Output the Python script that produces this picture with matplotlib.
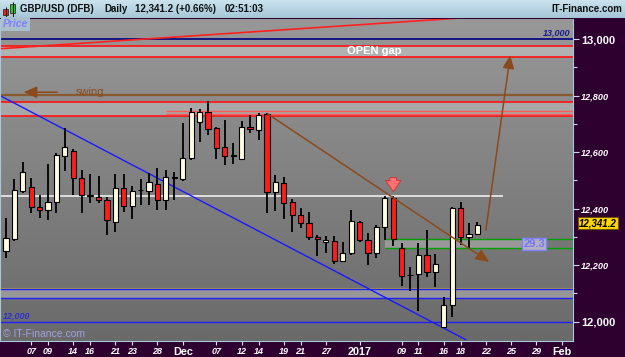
import numpy as np
import matplotlib
matplotlib.use('Agg')
import matplotlib.pyplot as plt
from matplotlib.colors import LinearSegmentedColormap
from matplotlib.patches import Rectangle

plt.rcParams['font.family'] = ['Liberation Sans', 'DejaVu Sans']

# GBP/USD (DFB) daily candles, 2 Nov 2016 .. 20 Jan 2017 (price x 10000)
opens = [12250, 12292, 12462, 12476, 12405, 12395, 12423, 12586, 12604, 12508,
         12444, 12441, 12430, 12352, 12473, 12409, 12465, 12462, 12487, 12430,
         12508, 12504, 12579, 12706, 12742, 12685, 12618, 12586, 12575, 12688,
         12678, 12735, 12458, 12490, 12423, 12377, 12349, 12299, 12281, 12285,
         12214, 12242, 12352, 12288, 12242, 12334, 12437, 12260, 12165, 12168,
         12235, 12175, 11980, 12058, 12402, 12299, 12310]
highs = [12366, 12504, 12565, 12508, 12448, 12557, 12596, 12685, 12610, 12536,
         12522, 12515, 12441, 12522, 12522, 12480, 12504, 12526, 12543, 12536,
         12529, 12703, 12755, 12752, 12780, 12688, 12713, 12632, 12710, 12731,
         12738, 12738, 12519, 12511, 12434, 12402, 12388, 12306, 12303, 12303,
         12281, 12395, 12356, 12313, 12342, 12444, 12444, 12278, 12193, 12278,
         12324, 12239, 12087, 12405, 12423, 12349, 12352]
lows = [12225, 12285, 12455, 12384, 12366, 12359, 12384, 12533, 12448, 12384,
        12419, 12419, 12306, 12317, 12388, 12363, 12412, 12412, 12395, 12395,
        12430, 12497, 12572, 12635, 12660, 12575, 12554, 12558, 12572, 12667,
        12642, 12384, 12391, 12363, 12317, 12331, 12288, 12232, 12242, 12204,
        12211, 12235, 12281, 12200, 12225, 12288, 12267, 12126, 12108, 12037,
        12157, 12122, 11978, 12016, 12271, 12260, 12306]
closes = [12296, 12465, 12529, 12405, 12395, 12423, 12589, 12618, 12508, 12448,
          12448, 12430, 12359, 12473, 12409, 12462, 12466, 12494, 12430, 12511,
          12511, 12579, 12742, 12742, 12681, 12614, 12586, 12589, 12688, 12681,
          12731, 12458, 12494, 12419, 12377, 12349, 12299, 12292, 12288, 12214,
          12242, 12356, 12288, 12242, 12334, 12437, 12292, 12161, 12163, 12235,
          12175, 12204, 12058, 12402, 12299, 12310, 12341]

tick_pos = [3, 5, 8, 10, 13, 15, 18, 21, 25, 28, 30, 33, 35, 38, 42,
            47, 49, 52, 54, 57, 60, 63, 66]
tick_lab = ['07', '09', '14', '16', '21', '23', '28', 'Dec', '07', '12', '14',
            '19', '21', '27', '2017', '09', '11', '16', '18', '22', '25', '29', 'Feb']

# drawn levels and bands
gap_band = [12936, 12975]
swing_level = 12802
res_band = [12727, 12777]
res_inner = [12736, 12745]
pivot_level = 12445
green_band = [12259, 12291]
support_band = [12083, 12115]
support_top = 12119

# trendlines (bar index, price)
red_trend = ([-0.7, 53.6], [12966, 13074])
blue_trend = ([-0.7, 54.6], [12800, 11936])
brown_down = ([31.1, 57.4], [12735, 12211])
brown_up = ([57.0, 59.9], [12324, 12943])

W, H = 625, 357
fig = plt.figure(figsize=(W / 100, H / 100), dpi=100, facecolor='#2d0030')


def fx(x):
    return x / W


def fy(y):
    return 1 - y / H


top, bot, right = 18.5, 341, 573
ax = fig.add_axes([0, fy(bot), fx(right), (bot - top) / H])
x0, x1 = -0.7, 67.35
y0, y1 = 11931, 13073

bg = LinearSegmentedColormap.from_list('bg', ['#989898', '#6a6a6a'])
ax.imshow(np.linspace(0, 1, 200).reshape(-1, 1), cmap=bg, extent=[x0, x1, y0, y1],
          aspect='auto', origin='upper', zorder=0)

# bands
ax.axhspan(*gap_band, color='white', alpha=0.28, lw=0, zorder=1)
ax.axhspan(*res_band, color='white', alpha=0.25, lw=0, zorder=1)
ax.axhspan(*support_band, color='white', alpha=0.28, lw=0, zorder=1)
ax.fill_between([45.0, 61.3], green_band[0], green_band[1], color='white', alpha=0.25, lw=0, zorder=1)

# horizontal lines
ax.axhline(13000, color='#000080', lw=1.2, zorder=2)
ax.axhline(12000, color='#2020ff', lw=1.0, zorder=2)
for lv in gap_band + res_band:
    ax.axhline(lv, color='#ff1010', lw=1.2, zorder=2)
ax.hlines(res_inner, 19.0, x1, color='#ff5a5a', lw=1.0, zorder=2)
ax.axhline(swing_level, color='#8a5a30', lw=1.6, zorder=2)
ax.hlines(pivot_level, x0, 59.0, color='#e6e6e6', lw=1.3, zorder=2)
ax.hlines(green_band, 45.0, x1, color='#00a000', lw=1.0, zorder=2)
ax.axhline(support_top, color='#b0a040', lw=0.8, zorder=2)
for lv in support_band:
    ax.axhline(lv, color='#2020ff', lw=1.0, zorder=2)

# trendlines
ax.plot(*red_trend, color='#ff2020', lw=1.2, zorder=2)
ax.plot(*blue_trend, color='#1a1aff', lw=1.0, zorder=2)

# candles
o = np.array(opens)
c = np.array(closes)
idx = np.arange(len(o))
body_lo = np.minimum(o, c)
body_h = np.maximum(np.abs(c - o), 1.0)
cols = np.where(c >= o, '#fffde2', '#ff1c1c')
ax.vlines(idx, lows, highs, color='black', lw=1.3, zorder=3)
ax.bar(idx, body_h, bottom=body_lo, width=0.62, color=cols, edgecolor='black',
       lw=0.8, zorder=4)

# arrows
arrow = dict(arrowstyle='-|>,head_length=0.8,head_width=0.35', color='#8b4a1c',
             lw=1.1, shrinkA=0, shrinkB=0)
ax.annotate('', xy=(brown_down[0][1], brown_down[1][1]),
            xytext=(brown_down[0][0], brown_down[1][0]), arrowprops=arrow, zorder=5)
ax.annotate('', xy=(brown_up[0][1], brown_up[1][1]),
            xytext=(brown_up[0][0], brown_up[1][0]), arrowprops=arrow, zorder=5)
ax.annotate('', xy=(2.1, 12812), xytext=(6.1, 12812), arrowprops=arrow, zorder=5)
ax.annotate('', xy=(46, 12460), xytext=(46, 12510),
            arrowprops=dict(arrowstyle='simple,head_width=0.7,head_length=0.5,tail_width=0.3',
                            fc='#ff7070', ec='#c83c3c', lw=0.7, mutation_scale=16,
                            shrinkA=0, shrinkB=0), zorder=5)

# texts inside plot
ax.text(10.0, 12812, 'swing', color='#8b4a1c', fontsize=8, ha='center', va='center', zorder=5)
ax.text(43.8, 12957, 'OPEN gap', color='white', fontsize=8, weight='bold',
        ha='center', va='center', zorder=5)
ax.text(-0.35, 12019, '12,000', color='#3030d0', fontsize=6.5, weight='bold',
        style='italic', ha='left', va='center', zorder=5)
ax.text(67.0, 13021, '13,000', color='#1a1a90', fontsize=6.5, weight='bold',
        style='italic', ha='right', va='center', zorder=5)
ax.text(61.45, 12275, '29.3', color='#7474ff', fontsize=8, weight='bold',
        ha='left', va='center', zorder=5,
        bbox=dict(boxstyle='square,pad=0.1', fc='#b2b2be', ec='#7f7fff', lw=1))

ax.set_xlim(x0, x1)
ax.set_ylim(y0, y1)

# axes styling
for s in ['left', 'right', 'bottom']:
    ax.spines[s].set_color('#a8c8d8')
    ax.spines[s].set_linewidth(0.8)
ax.spines['top'].set_visible(False)

ax.yaxis.tick_right()
yt = list(range(12000, 13001, 200))
ax.set_yticks(yt, ['{:,}'.format(v) for v in yt])
ax.set_yticks(list(range(12100, 13000, 200)), minor=True)
ax.tick_params(axis='y', which='both', colors='#cfd8e8', labelcolor='white',
               direction='out', pad=2)
ax.tick_params(axis='y', which='major', length=4, width=0.8)
ax.tick_params(axis='y', which='minor', length=3, width=0.8)
for lab in ax.get_yticklabels():
    if lab.get_text() in ('13,000', '12,000'):
        lab.set_fontsize(8)
        lab.set_fontweight('bold')
    else:
        lab.set_fontsize(6.6)
        lab.set_fontweight('bold')
        lab.set_fontstyle('italic')

ax.set_xticks(tick_pos, tick_lab)
ax.tick_params(axis='x', colors='#e0e0e0', labelcolor='white', length=3, width=0.8, pad=1.5)
for lab in ax.get_xticklabels():
    if lab.get_text() in ('Dec', '2017', 'Feb'):
        lab.set_fontsize(7.8)
        lab.set_fontweight('bold')
    else:
        lab.set_fontsize(6.5)
        lab.set_fontweight('bold')
        lab.set_fontstyle('italic')

# header bar
hx = fig.add_axes([0, fy(top), 1, top / H])
hbg = LinearSegmentedColormap.from_list('hb', ['#cde4ef', '#a6c7d8'])
hx.imshow(np.linspace(0, 1, 50).reshape(-1, 1), cmap=hbg, extent=[0, W, top, 0],
          aspect='auto', origin='upper')
hx.set_xlim(0, W)
hx.set_ylim(top, 0)
hx.axis('off')
hx.vlines([5.5, 12.7], [6.5, 1.7], [17, 16.7], color='#202020', lw=0.8)
hx.add_patch(Rectangle((3, 9.3), 5.3, 5.7, fc='#ee2020', ec='#303030', lw=0.6))
hx.add_patch(Rectangle((10, 4), 5.3, 9.3, fc='#20d020', ec='#303030', lw=0.6))
hstyle = dict(fontsize=7.0, weight='bold', color='#101010', va='center')
hx.text(20, 9, 'GBP/USD (DFB)', **hstyle)
hx.text(104, 9, 'Daily', **hstyle)
hx.text(135, 9, '12,341.2 (+0.66%)', **hstyle)
hx.text(225, 9, '02:51:03', **hstyle)
hx.text(622, 9, 'IT-Finance.com', ha='right', **hstyle)

# labels over the figure
fig.text(fx(3), fy(24), 'Price', color='#8080ff', fontsize=7.5, style='italic',
         weight='bold', va='center',
         bbox=dict(boxstyle='square,pad=0.15', fc='#a9bfcc', ec='none'))
fig.text(fx(3), fy(334), '\u00a9 IT-Finance.com', color='#a0a0e0', fontsize=7.5, va='center')
fig.text(fx(579), fy(223), '12,341.2', color='black', fontsize=7, style='italic',
         weight='bold', va='center',
         bbox=dict(boxstyle='square,pad=0.15', fc='#ffd700', ec='#705000', lw=0.8))

fig.savefig('out.png', dpi=100, facecolor=fig.get_facecolor())
